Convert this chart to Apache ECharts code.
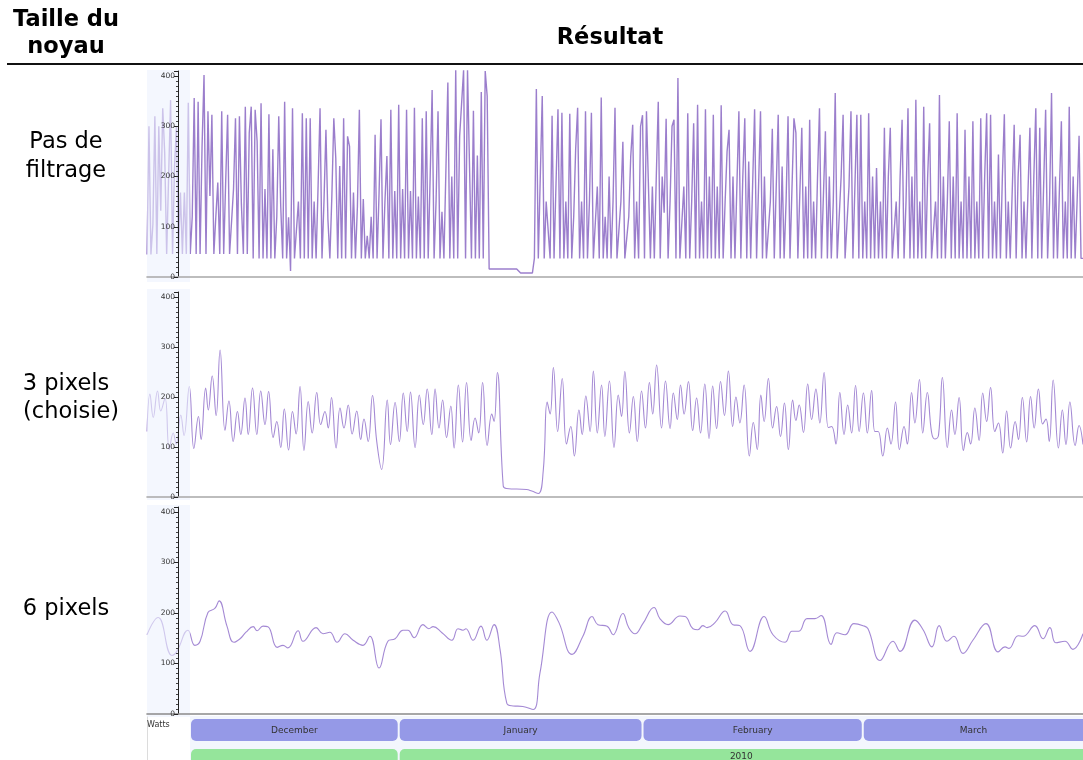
<!DOCTYPE html>
<html><head><meta charset="utf-8">
<script src="https://cdn.jsdelivr.net/npm/echarts@6/dist/echarts.min.js"></script>
<style>html,body{margin:0;padding:0;background:#fff}#c{width:1083px;height:760px}</style>
</head><body><div id="c"></div>
<script>
// ---- Panel 1 (raw data, "Pas de filtrage"): 4 readings per day (00h, 06h, 12h, 18h), from 30 Nov 2009
const rawNov = [45,300,45,105];
const rawDec = [
 320,46,300,132, 336,247,46,201, 352,46,221,300, 46,168,46,168, 46,347,46,120,
 356,46,349,46, 260,402,46,330, 161,323,46,120, 188,46,330,46, 188,323,46,110,
 175,316,46,320, 145,46,339,46, 287,339,37,333, 270,37,346,37, 175,37,324,37,
 254,37,120,320, 142,37,349,37, 119,12,336,37, 37,150,37,326, 37,316,37,316,
 37,150,37,180, 336,37,150,293, 115,37,160,316, 237,37,221,37, 316,37,280,260,
 37,168,37,140, 333,37,155,37, 82,37,120,37, 283,37,165,314, 37,150,241,37,
 333,37,171,37];
const rawJan = [
 343,37,175,37, 333,37,171,37, 337,37,160,37, 316,37,330,37, 200,372,37,150,
 330,37,130,37, 37,387,37,200, 37,412,37,280, 282,412,37,412, 410,37,331,37,
 242,37,368,37, 410,360,16,16, 16,16,16,16, 16,16,16,16, 16,16,16,16,
 16,16,8,8, 8,8,8,8, 8,37,374,37, 37,360,37,150, 150,37,321,37,
 37,334,37,327, 37,150,37,325, 37,120,255,337, 37,150,37,330, 37,150,327,37,
 37,180,37,357, 37,120,37,200, 37,150,337,37, 37,150,269,37, 37,120,240,303,
 37,150,37,300];
const rawFeb = [
 322,37,330,327, 37,180,37,200, 349,37,200,128, 315,37,150,300, 313,37,396,37,
 37,180,37,326, 37,150,306,37, 343,37,150,37, 334,37,200,37, 323,37,180,37,
 342,37,150,250, 293,37,200,37, 37,330,37,200, 316,37,230,37, 37,334,37,180,
 330,37,200,37, 37,150,295,37, 37,323,37,220, 37,150,320,37, 37,316,287,37,
 37,297,37,180, 37,313,37,150, 37,200,336,37, 37,290,37,200, 37,150,366,37,
 37,200,323,37, 37,180,330,37, 37,323,37,323];
const rawMar = [
 37,150,37,326, 37,200,37,217, 37,150,37,297, 37,200,297,37, 37,150,37,200,
 313,37,150,336, 37,200,37,353, 37,150,37,339, 37,200,306,37, 37,150,37,362,
 37,200,37,150, 310,37,200,37, 326,37,150,37, 293,37,200,37, 310,37,150,37,
 316,37,200,326, 37,323,37,150, 37,244,37,200, 324,37,150,37, 37,303,37,200,
 283,37,150,37, 37,297,37,200, 336,37,297,37, 37,333,37,150, 366,37,200,37,
 37,310,37,150, 37,339,37,200, 37,150,281,37, 37];

// ---- Panel 2 ("3 pixels"): hours since 30 Nov 2009 00:00 and Watts
const p2H = [0,9,19,32,42,55,68,80,89,103,113,129,143,157,165,179,187,199,211,223,238,250,263,276,286,299,309,322,335,347,360,371,385,396,408,419,432,444,455,467,479,492,504,518,530,543,553,563,577,589,601,614,626,640,652,662,675,688,701,716,733,743,757,770,782,794,804,818,831,843,855,869,879,891,902,914,927,937,950,963,975,989,1001,1012,1024,1038,1052,1059,1069,1087,1097,1158,1174,1194,1209,1221,1230,1240,1253,1267,1280,1293,1304,1318,1328,1339,1352,1362,1374,1387,1397,1411,
 1425,1438,1448,1458,1472,1484,1496,1509,1521,1533,1543,1555,1570,1582,1596,1606,1618,1628,1639,1652,1665,1677,1689,1702,1715,1726,1738,1750,1762,1774,1787,1797,1809,1822,1838,1850,1862,1873,1883,1896,1909,1921,1933,1945,1957,1970,1980,1990,2003,2016,2028,2041,2053,2066,2079,2089,2102,2114,2127,2138,2150,2162,2173,2186,2198,2211,2221,2231,2245,2259,2270,2284,2296,2310,2320,2333,2343,2357,2367,2381,2394,2404,2415,2427,2442,2455,2465,2478,2491,2503,2513,2526,2539,2550,2562,2574,2587,2598,2611,2623,2635,2649,2659,2671,2684,2696,2707,2720,2733,2743,2753,2765,2781,2793,2804,2816,2832,2844,2856];
const p2V = [131,206,159,212,172,198,95,128,106,164,123,221,97,161,115,218,174,242,163,294,133,192,111,171,125,198,125,218,125,212,145,211,119,151,99,176,94,171,126,221,93,191,128,209,145,171,138,199,98,178,138,184,126,172,115,156,111,203,111,55,194,105,189,111,208,131,210,99,204,145,216,125,216,138,194,119,182,98,224,110,229,113,158,128,229,103,166,151,249,22,17,15,12,7,52,190,166,259,131,237,106,141,82,174,125,202,131,252,128,224,121,232,
 99,204,161,251,128,201,111,212,138,229,166,264,138,232,137,208,155,224,166,231,133,198,128,226,117,222,137,231,163,252,141,200,148,224,82,149,95,204,151,237,138,181,121,188,95,194,153,184,129,226,155,216,148,249,139,141,106,209,125,184,128,223,131,208,128,213,131,131,82,138,106,190,95,141,106,209,148,235,128,209,129,116,123,239,99,174,125,199,93,129,106,178,113,208,151,219,131,148,88,172,98,151,115,199,110,201,138,216,146,156,111,234,98,174,105,190,103,143,105];

// ---- Panel 3 ("6 pixels"): hours since 30 Nov 2009 00:00 and Watts
const p3H = [0,34,76,91,125,146,162,186,207,220,244,265,284,302,324,336,354,369,397,415,430,461,476,516,537,558,580,604,629,659,680,708,735,757,781,796,815,842,860,873,900,930,949,964,973,995,1019,1037,1059,1077,1098,1117,1147,1178,1199,1236,1257,1297,1330,1358,1376,1404,1422,1452,1470,1489,1513,1547,1565,1590,1626,1642,1666,1681,1696,1709,1733,1764,1788,1809,1840,1883,1910,1947,1968,1989,2014,2038,2057,2087,2105,2130,2157,2185,2200,2237,2276,2298,2343,2368,2395,2417,2441,2462,2490,2520,2560,2597,2618,2630,2658,2673,2709,2734,2755,2773,2801,2825,2856];
const p3V = [157,191,116,124,166,136,144,201,209,224,174,142,149,162,173,165,174,173,132,136,131,165,144,171,159,162,142,159,146,136,154,91,144,149,166,166,151,177,169,173,161,146,169,166,169,146,174,146,177,129,21,16,15,9,81,202,181,118,154,193,177,174,157,199,171,159,179,211,189,177,194,193,169,167,175,171,181,204,177,175,124,193,157,142,164,164,189,189,195,138,161,157,179,175,169,106,144,124,186,167,133,175,144,154,120,146,179,123,133,130,155,154,175,149,171,141,144,128,159];

// ---- Timeline rows
const monthNames = ['December','January','February','March'];
const monthStart = ['2009-12-01','2010-01-01','2010-02-01','2010-03-01'];
const monthEnd   = ['2010-01-01','2010-02-01','2010-03-01','2010-04-01'];
const yearNames = ['2009','2010'];
const yearStart = ['2009-01-01','2010-01-01'];
const yearEnd   = ['2010-01-01','2011-01-01'];
const yTicks = [0,100,200,300,400];

// ---- build
const HOUR = 3600e3;
const t0 = Date.UTC(2009,10,30);
const tMax = Date.UTC(2010,2,29);
const ts = s => { const p = s.split('-').map(Number); return Date.UTC(p[0], p[1]-1, p[2]); };
const rawAll = [].concat(rawNov, rawDec, rawJan, rawFeb, rawMar);
const s1 = rawAll.map((v,i)=>[t0 + i*6*HOUR, v]);
const s2 = p2H.map((h,i)=>[t0 + h*HOUR, p2V[i]]);
const s3 = p3H.map((h,i)=>[t0 + h*HOUR, p3V[i]]);
const tl = [];
monthNames.forEach((n,i)=>tl.push({value:[0, ts(monthStart[i]), ts(monthEnd[i]), 0], name:n}));
yearNames.forEach((n,i)=>tl.push({value:[1, ts(yearStart[i]), ts(yearEnd[i]), 0], name:n}));

const chart = echarts.init(document.getElementById('c'), null, {renderer:'canvas'});
const grids = [
  {left:147, right:0, top:71, height:206},
  {left:147, right:0, top:292, height:205},
  {left:147, right:0, top:507, height:207},
  {left:147, right:0, top:716, height:44}
];
const xAxes = grids.map((g,i)=>({
  type:'time', gridIndex:i, min:t0, max:tMax, z:60,
  axisLine:{show:i<3, lineStyle:{color: i===2 ? '#8a8a8a' : '#a8a8a8', width:1.6}},
  axisTick:{show:false}, axisLabel:{show:false}, splitLine:{show:false}
}));
const yAxes = [0,1,2].map(i=>({
  type:'value', gridIndex:i, min:0, max:410, interval:100, offset:-31, z:60,
  axisLine:{show:true, lineStyle:{color:'#222', width:1}},
  axisTick:{show:true, length:4, lineStyle:{color:'#222'}},
  minorTick:{show:true, splitNumber:10, length:2, lineStyle:{color:'#444'}},
  axisLabel:{fontSize:7.5, color:'#333', margin:3, fontFamily:'DejaVu Sans',
    formatter: v => yTicks.indexOf(v) >= 0 ? String(v) : ''},
  splitLine:{show:false}
}));
yAxes.push({type:'value', gridIndex:3, min:0, max:1, show:false});

const lineCol = 'rgba(116,76,184,0.72)';
const smoothCol = 'rgba(134,98,198,0.75)';

function renderBar(params, api){
  const cs = params.coordSys;
  const row = api.value(0);
  const xa = api.coord([api.value(1), 0])[0];
  const xb = api.coord([api.value(2), 0])[0];
  const x0 = Math.max(xa + 1, cs.x + 44);
  const x1 = Math.min(xb - 1, cs.x + cs.width + 8);
  if (x1 <= x0) return null;
  const y = row === 0 ? cs.y + 3 : cs.y + 33;
  const h = row === 0 ? 22 : 20;
  const fill = row === 0 ? '#9599e7' : '#95e59b';
  const name = tl[params.dataIndex].name;
  const children = [{type:'rect', shape:{x:x0, y:y, width:x1-x0, height:h, r:5}, style:{fill:fill}}];
  const showLabel = row === 0 || (x1 - x0) > 300;
  if (showLabel) {
    const cx = (x0 + Math.min(x1, cs.x + cs.width)) / 2;
    children.push({type:'text', style:{text:name, x:cx, y: row===0 ? y+11.5 : y+7.5,
      align:'center', verticalAlign:'middle', textAlign:'center', textVerticalAlign:'middle',
      fill:'#333', font:'9px "DejaVu Sans"'}});
  }
  return {type:'group', children:children};
}

const hdr = {fontFamily:'DejaVu Sans', fontWeight:'bold', fontSize:22.5, fill:'#000'};
const lbl = {fontFamily:'DejaVu Sans', fontSize:22.5, fill:'#000'};
function txt(t, x, y, st){ return {type:'text', z:100, style:Object.assign({text:t, x:x, y:y, textAlign:'center', textVerticalAlign:'middle', align:'center', verticalAlign:'middle'}, st)}; }

chart.setOption({
  animation:false,
  backgroundColor:'#fff',
  grid: grids,
  xAxis: xAxes,
  yAxis: yAxes,
  series: [
    {type:'line', xAxisIndex:0, yAxisIndex:0, data:s1, showSymbol:false, symbol:'none', sampling:null, clip:true, z:2,
      lineStyle:{color:lineCol, width:1.4}},
    {type:'line', xAxisIndex:1, yAxisIndex:1, data:s2, showSymbol:false, symbol:'none', smooth:0.45, clip:true, z:2,
      lineStyle:{color:smoothCol, width:1.1}},
    {type:'line', xAxisIndex:2, yAxisIndex:2, data:s3, showSymbol:false, symbol:'none', smooth:0.45, clip:true, z:2,
      lineStyle:{color:smoothCol, width:1.1}},
    {type:'custom', xAxisIndex:3, yAxisIndex:3, data:tl, renderItem:renderBar, clip:false, z:5,
      encode:{x:[1,2], y:3}}
  ],
  graphic: [
    txt('Taille du', 66, 20, hdr),
    txt('noyau', 66, 47, hdr),
    txt('Résultat', 610, 38, hdr),
    {type:'rect', z:100, shape:{x:7, y:63, width:1076, height:2}, style:{fill:'#111'}},
    txt('Pas de', 66, 142, lbl),
    txt('filtrage', 66, 171, lbl),
    txt('3 pixels', 66, 384, lbl),
    txt('(choisie)', 71, 412, lbl),
    txt('6 pixels', 66, 609, lbl),
    {type:'rect', z:50, shape:{x:147, y:70, width:43, height:212}, style:{fill:'rgba(236,241,254,0.6)'}},
    {type:'rect', z:50, shape:{x:147, y:289, width:43, height:211}, style:{fill:'rgba(236,241,254,0.6)'}},
    {type:'rect', z:50, shape:{x:147, y:505, width:43, height:212}, style:{fill:'rgba(236,241,254,0.6)'}},
    {type:'rect', z:0, shape:{x:190, y:716, width:893, height:44}, style:{fill:'#f3f6fd'}},
    {type:'rect', z:0, shape:{x:147, y:716, width:1, height:44}, style:{fill:'#dcdcdc'}},
    {type:'text', z:100, style:{text:'Watts', x:147, y:725, textAlign:'left', textVerticalAlign:'middle', align:'left', verticalAlign:'middle', fill:'#333', font:'8px "DejaVu Sans"'}}
  ]
});
</script>
</body></html>
